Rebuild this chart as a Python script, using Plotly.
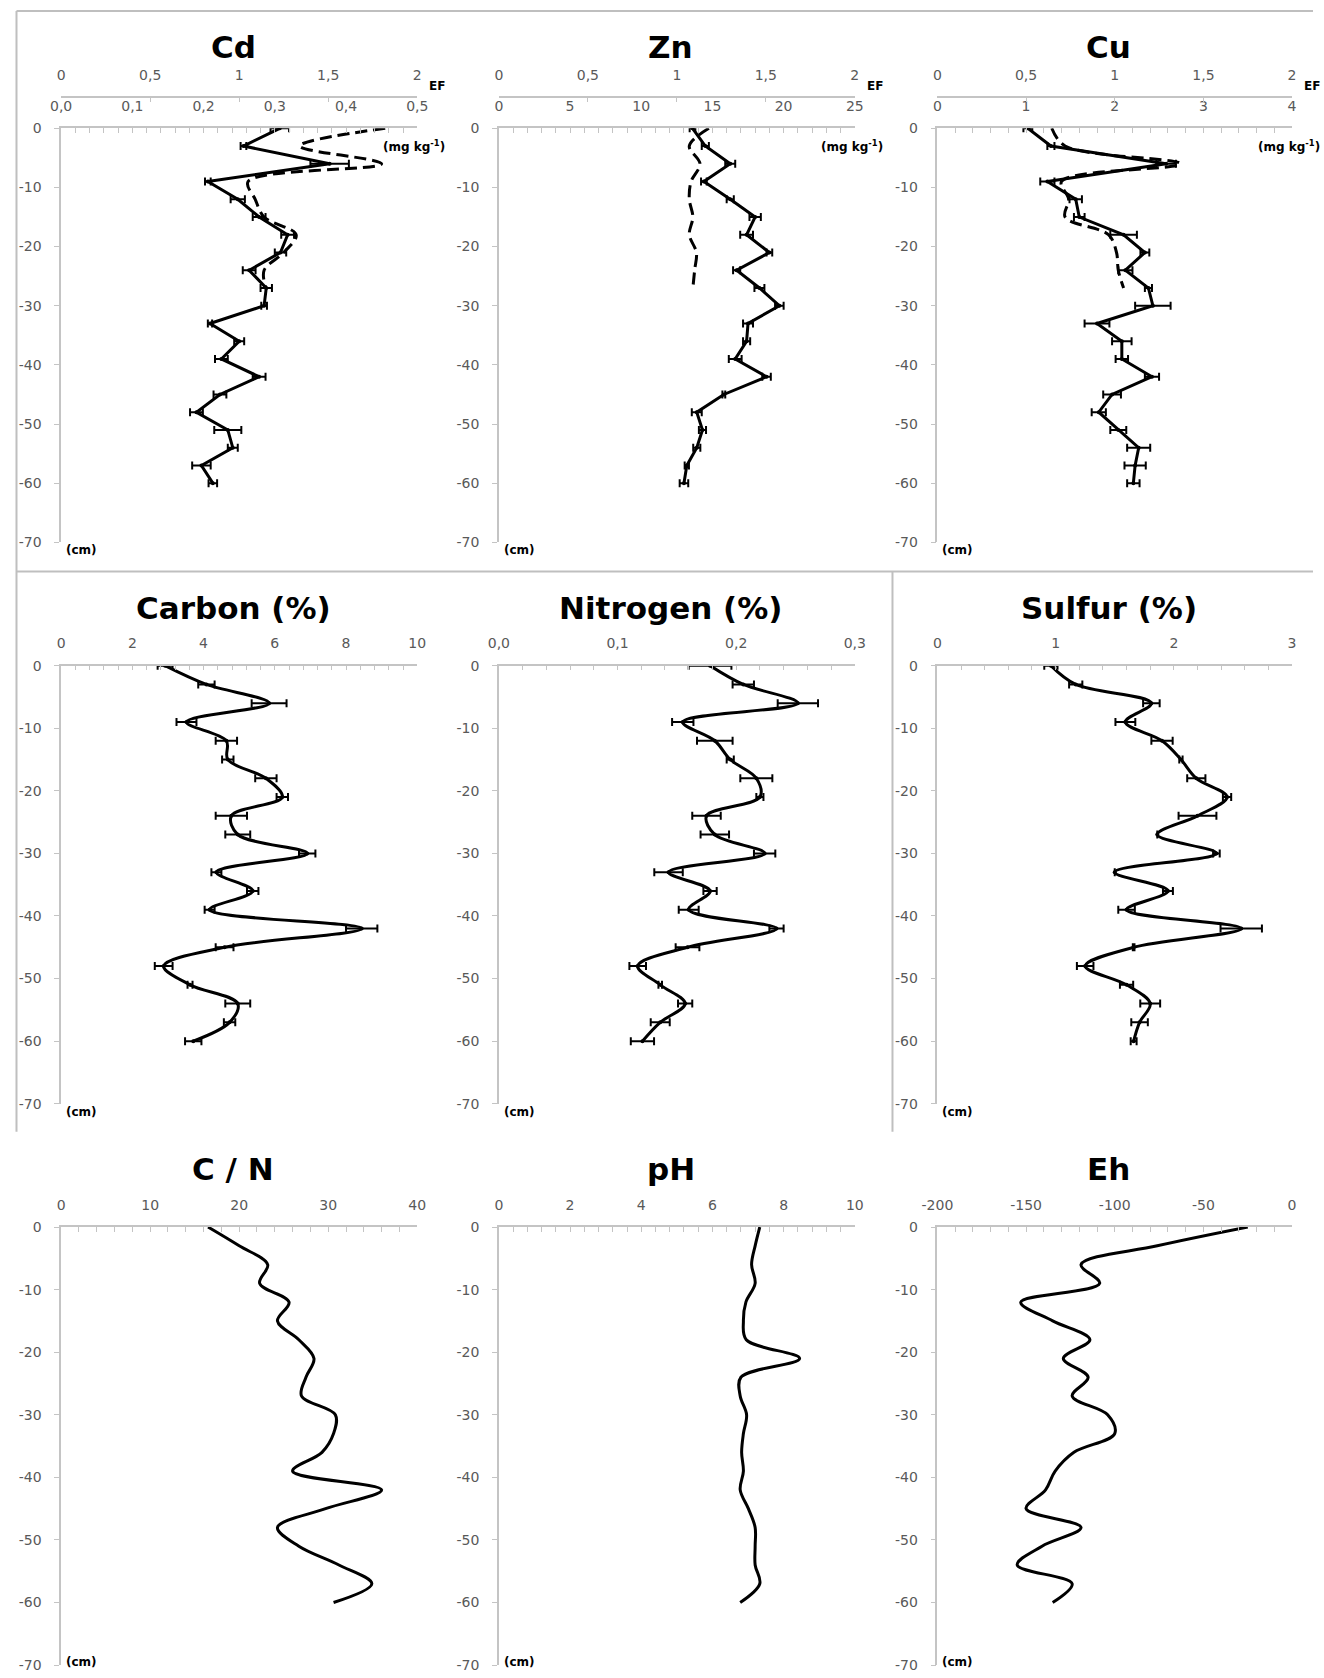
import plotly.graph_objects as go

# ---------------- data ----------------
depth = [0, -3, -6, -9, -12, -15, -18, -21, -24, -27, -30, -33, -36, -39, -42, -45, -48, -51, -54, -57, -60]
depth_ef = [0, -3, -6, -9, -12, -15, -18, -21, -24, -27]

cd_mg = [0.307, 0.256, 0.377, 0.206, 0.248, 0.278, 0.318, 0.308, 0.264, 0.288, 0.285,
         0.209, 0.250, 0.225, 0.278, 0.223, 0.190, 0.234, 0.241, 0.197, 0.213]
cd_err = [0.013, 0.004, 0.027, 0.004, 0.010, 0.009, 0.009, 0.008, 0.009, 0.008, 0.004,
          0.003, 0.007, 0.009, 0.009, 0.009, 0.009, 0.019, 0.007, 0.013, 0.006]
cd_ef = [1.82, 1.34, 1.80, 1.05, 1.09, 1.14, 1.32, 1.25, 1.14, 1.15]

zn_mg = [13.6, 14.5, 16.25, 14.4, 16.25, 18.0, 17.4, 19.0, 16.7, 18.3, 19.7,
         17.5, 17.4, 16.6, 18.8, 15.8, 13.9, 14.3, 13.9, 13.2, 13.0]
zn_err = [0.2, 0.25, 0.35, 0.2, 0.25, 0.4, 0.45, 0.2, 0.25, 0.35, 0.3,
          0.35, 0.25, 0.45, 0.3, 0.1, 0.35, 0.25, 0.25, 0.15, 0.3]
zn_ef = [1.18, 1.07, 1.13, 1.08, 1.07, 1.09, 1.07, 1.11, 1.10, 1.09]

cu_mg = [1.02, 1.28, 2.58, 1.24, 1.56, 1.60, 2.10, 2.34, 2.12, 2.38, 2.43,
         1.80, 2.08, 2.08, 2.42, 1.97, 1.82, 2.04, 2.27, 2.23, 2.21]
cu_err = [0.05, 0.04, 0.11, 0.08, 0.07, 0.06, 0.15, 0.05, 0.08, 0.04, 0.20,
          0.14, 0.11, 0.07, 0.08, 0.10, 0.08, 0.09, 0.13, 0.12, 0.07]
cu_ef = [0.645, 0.72, 1.37, 0.70, 0.74, 0.72, 0.965, 1.01, 1.02, 1.05]

carbon = [2.92, 4.08, 5.84, 3.52, 4.64, 4.68, 5.75, 6.21, 4.78, 4.96, 6.91,
          4.36, 5.38, 4.17, 8.44, 4.59, 2.88, 3.62, 4.96, 4.73, 3.71]
carbon_err = [0.21, 0.23, 0.49, 0.28, 0.30, 0.16, 0.30, 0.16, 0.44, 0.35, 0.23,
              0.14, 0.16, 0.14, 0.44, 0.25, 0.25, 0.07, 0.35, 0.16, 0.23]

nitrogen = [0.178, 0.206, 0.252, 0.155, 0.182, 0.195, 0.217, 0.220, 0.175, 0.182, 0.224,
            0.143, 0.178, 0.160, 0.234, 0.159, 0.117, 0.136, 0.157, 0.136, 0.121]
nitrogen_err = [0.018, 0.009, 0.017, 0.009, 0.015, 0.003, 0.0135, 0.003, 0.012, 0.012, 0.009,
                0.012, 0.0056, 0.0084, 0.006, 0.010, 0.007, 0.0015, 0.006, 0.008, 0.0098]

sulfur = [0.96, 1.17, 1.81, 1.59, 1.90, 2.06, 2.19, 2.45, 2.20, 1.86, 2.36,
          1.50, 1.95, 1.60, 2.57, 1.66, 1.25, 1.60, 1.80, 1.71, 1.66]
sulfur_err = [0.056, 0.056, 0.07, 0.084, 0.09, 0.014, 0.077, 0.035, 0.16, 0.0, 0.028,
              0.0, 0.042, 0.07, 0.175, 0.007, 0.07, 0.056, 0.084, 0.07, 0.025]

c_n = [16.5, 20.0, 23.2, 22.3, 25.6, 24.3, 26.7, 28.4, 27.5, 27.0, 30.8,
       30.6, 29.3, 26.0, 36.0, 29.7, 24.3, 26.7, 31.2, 34.9, 30.6]

ph = [7.33, 7.20, 7.10, 7.20, 6.94, 6.87, 6.95, 8.45, 6.80, 6.78, 6.96,
      6.87, 6.82, 6.87, 6.78, 7.01, 7.20, 7.20, 7.20, 7.33, 6.78]

eh = [-25, -76, -119, -108.5, -153, -135, -114, -129, -115, -124, -104,
      -100, -123, -133.6, -139, -150, -119, -141, -155, -124, -135]

# tick labels
depth_ticks = ['0', '-10', '-20', '-30', '-40', '-50', '-60', '-70']
ef_ticks = ['0', '0,5', '1', '1,5', '2']
cd_ticks = ['0,0', '0,1', '0,2', '0,3', '0,4', '0,5']
zn_ticks = ['0', '5', '10', '15', '20', '25']
cu_ticks = ['0', '1', '2', '3', '4']
carbon_ticks = ['0', '2', '4', '6', '8', '10']
nitrogen_ticks = ['0,0', '0,1', '0,2', '0,3']
sulfur_ticks = ['0', '1', '2', '3']
cn_ticks = ['0', '10', '20', '30', '40']
ph_ticks = ['0', '2', '4', '6', '8', '10']
eh_ticks = ['-200', '-150', '-100', '-50', '0']

titles = ['Cd', 'Zn', 'Cu', 'Carbon (%)', 'Nitrogen (%)', 'Sulfur (%)', 'C / N', 'pH', 'Eh']

# ---------------- layout geometry ----------------
# positions are given in pixels of the target picture; the page is photographed
# with a small offset/scale, which M and S compensate.
W, H = 1324, 1678
M, S = 8.0, 0.988
COLS = [(53.5, 412.7), (495.0, 854.0), (937.3, 1295.0)]
ROWS = [(128.0, 541.0), (664.0, 1101.0), (1224.0, 1661.0)]
EF_LINE_Y = 96.5

AX = '#c4c4c4'
TXT = '#595959'
FONT = 'DejaVu Sans'
TF = dict(family=FONT, size=14, color=TXT)


def fx(p):
    return ((p - M) / S) / W


def fy(p):
    return 1 - ((p - M) / S) / H


def vals(labels):
    return [float(s.replace(',', '.')) for s in labels]


def alias(labels):
    # plotly renders negatives with a unicode minus; show them as in the reference
    return {s.replace('-', '\u2212'): s for s in labels if s.startswith('-')}


def fmt(labels):
    return '.1f' if any(',' in s for s in labels) else ''


panel_ticks = [cd_ticks, zn_ticks, cu_ticks, carbon_ticks, nitrogen_ticks,
               sulfur_ticks, cn_ticks, ph_ticks, eh_ticks]
panel_minor = [0.02, 1, 0.2, 0.4, 0.02, 0.2, 2, 0.4, 10]

fig = go.Figure()


def add_series(x, y, i, err=None, dash='solid', shape='linear', markers=True, xax=None):
    n = '' if i == 0 else str(i + 1)
    line = dict(color='black', width=3, dash=dash, shape=shape)
    if shape == 'spline':
        line['smoothing'] = 1.0
    tr = go.Scatter(x=x, y=y, xaxis=xax or ('x' + n), yaxis='y' + n,
                    mode='lines+markers' if markers else 'lines',
                    line=line, marker=dict(size=4, color='black'),
                    hoverinfo='skip', showlegend=False)
    if err is not None:
        tr.error_x = dict(type='data', array=err, visible=True, color='black',
                          thickness=2, width=4)
    fig.add_trace(tr)


DASH = '12px,6px'
add_series(cd_ef, depth_ef, 0, dash=DASH, shape='spline', markers=False, xax='x10')
add_series(cd_mg, depth, 0, err=cd_err)
add_series(zn_ef, depth_ef, 1, dash=DASH, shape='spline', markers=False, xax='x11')
add_series(zn_mg, depth, 1, err=zn_err)
add_series(cu_ef, depth_ef, 2, dash=DASH, shape='spline', markers=False, xax='x12')
add_series(cu_mg, depth, 2, err=cu_err)
add_series(carbon, depth, 3, err=carbon_err, shape='spline')
add_series(nitrogen, depth, 4, err=nitrogen_err, shape='spline')
add_series(sulfur, depth, 5, err=sulfur_err, shape='spline')
add_series(c_n, depth, 6, shape='spline', markers=False)
add_series(ph, depth, 7, shape='spline', markers=False)
add_series(eh, depth, 8, shape='spline', markers=False)

layout = dict(width=W, height=H, margin=dict(l=0, r=0, t=0, b=0),
              paper_bgcolor='white', plot_bgcolor='white', showlegend=False,
              separators=', ')

annotations = []
for i in range(9):
    r, c = divmod(i, 3)
    n = '' if i == 0 else str(i + 1)
    xd = [fx(COLS[c][0]), fx(COLS[c][1])]
    yd = [fy(ROWS[r][1]), fy(ROWS[r][0])]
    tv = vals(panel_ticks[i])
    layout['xaxis' + n] = dict(
        domain=xd, anchor='y' + n, side='top', range=[tv[0], tv[-1]],
        tickmode='linear', tick0=tv[0], dtick=tv[1] - tv[0],
        tickformat=fmt(panel_ticks[i]), labelalias=alias(panel_ticks[i]),
        showline=True, linecolor=AX, linewidth=1.5,
        ticks='inside', ticklen=5, tickcolor=AX, tickwidth=1.3,
        minor=dict(tickmode='linear', tick0=tv[0], dtick=panel_minor[i],
                   ticks='inside', ticklen=5, tickcolor=AX, tickwidth=1.3),
        showgrid=False, zeroline=False, tickfont=TF, ticklabelstandoff=10,
        fixedrange=True)
    layout['yaxis' + n] = dict(
        domain=yd, anchor='x' + n, range=[-70, 0],
        tickmode='array', tickvals=vals(depth_ticks), ticktext=depth_ticks,
        showline=True, linecolor=AX, linewidth=1.5,
        ticks='outside', ticklen=5, tickcolor=AX, tickwidth=1.3,
        showgrid=False, zeroline=False, tickfont=TF, ticklabelstandoff=10,
        fixedrange=True)
    # title (sits slightly left of the plot-area centre in the reference)
    title_y = [47, 607, 1166][r]
    annotations.append(dict(text='<b>' + titles[i] + '</b>', xref='paper', yref='paper',
                            x=fx((COLS[c][0] + COLS[c][1]) / 2 - 6), y=fy(title_y),
                            xanchor='center', yanchor='middle', showarrow=False,
                            font=dict(family=FONT, size=31, color='black')))
    # (cm)
    cm_y = min(ROWS[r][1] + 8, 1658)
    annotations.append(dict(text='<b>(cm)</b>', xref='paper', yref='paper',
                            x=fx(COLS[c][0] + 3), y=fy(cm_y),
                            xanchor='left', yanchor='middle', showarrow=False,
                            font=dict(family=FONT, size=12, color='black')))

# EF axes for the first row
for k in range(3):
    base = 'x' if k == 0 else 'x' + str(k + 1)
    tv = vals(ef_ticks)
    layout['xaxis' + str(10 + k)] = dict(
        overlaying=base, anchor='free', position=fy(EF_LINE_Y), side='top',
        domain=[fx(COLS[k][0]), fx(COLS[k][1])], range=[tv[0], tv[-1]],
        tickmode='linear', tick0=tv[0], dtick=tv[1] - tv[0],
        showline=True, linecolor=AX, linewidth=1.5,
        ticks='inside', ticklen=5, tickcolor=AX, tickwidth=1.3,
        showgrid=False, zeroline=False, tickfont=TF, ticklabelstandoff=10,
        fixedrange=True)
    annotations.append(dict(text='<b>EF</b>', xref='paper', yref='paper',
                            x=fx(COLS[k][1] + 10), y=fy(86),
                            xanchor='left', yanchor='middle', showarrow=False,
                            font=dict(family=FONT, size=12, color='black')))
    annotations.append(dict(text='<b>(mg kg<sup>-1</sup>)</b>', xref='paper', yref='paper',
                            x=fx(COLS[k][1] + 30), y=fy(146),
                            xanchor='right', yanchor='middle', showarrow=False,
                            font=dict(family=FONT, size=12, color='black')))

layout['annotations'] = annotations

FRAME = '#bfbfbf'
shapes = []
for (x0, y0, x1, y1) in [(8.5, 11, 1340, 11), (8.5, 11, 8.5, 1129), (8.5, 570, 1340, 570),
                         (892, 570, 892, 1129)]:
    shapes.append(dict(type='line', xref='paper', yref='paper',
                       x0=fx(x0), y0=fy(y0), x1=min(fx(x1), 1.0), y1=fy(y1),
                       line=dict(color=FRAME, width=2)))
layout['shapes'] = shapes

fig.update_layout(**layout)
fig.write_html("out.html")
